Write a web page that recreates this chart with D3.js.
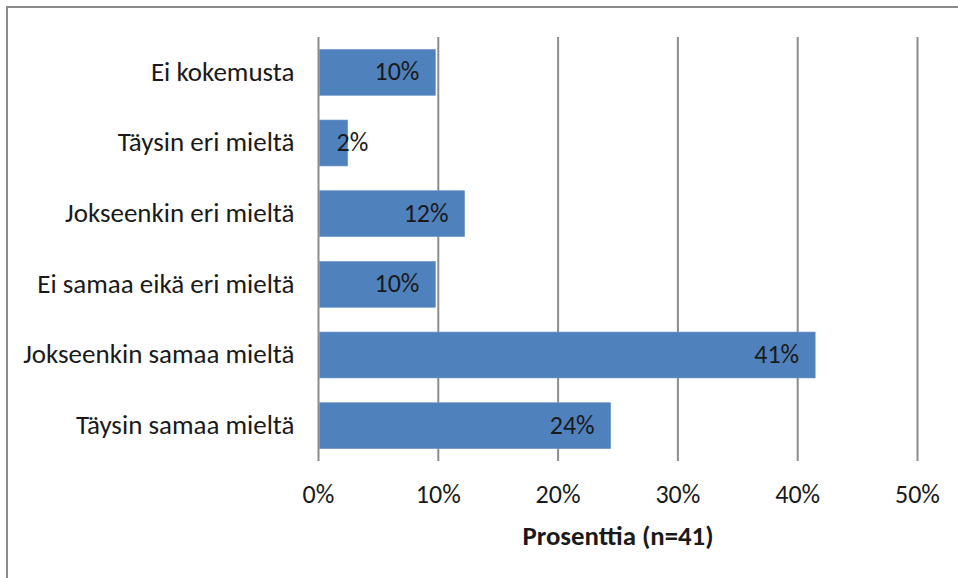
<!DOCTYPE html>
<html>
<head>
<meta charset="utf-8">
<script src="https://cdn.jsdelivr.net/npm/d3@7"></script>
<style>
  html, body { margin: 0; padding: 0; background: #fff; }
  svg { display: block; }
  text { font-family: Carlito, Calibri, Lato, "Open Sans", sans-serif; fill: #1a1a1a; }
</style>
</head>
<body>
<svg id="chart" width="958" height="578"></svg>
<script>
// Survey answers, shown top to bottom
const categories = [
  "Ei kokemusta",
  "Täysin eri mieltä",
  "Jokseenkin eri mieltä",
  "Ei samaa eikä eri mieltä",
  "Jokseenkin samaa mieltä",
  "Täysin samaa mieltä"
];
// Share of respondents (%), n = 41
const percentages = [9.76, 2.44, 12.20, 9.76, 41.46, 24.39];
const xTicks = [0, 10, 20, 30, 40, 50];
const axisTitle = "Prosenttia (n=41)";

const svg = d3.select("#chart");
const W = 958, H = 578;
const plot = { left: 318.5, right: 917.5, top: 37, bottom: 461 };

// Outer frame (right and bottom edges fall outside the canvas)
svg.append("rect")
  .attr("x", 7).attr("y", 7)
  .attr("width", W + 10).attr("height", H + 10)
  .attr("fill", "none")
  .attr("stroke", "#8a8a8a")
  .attr("stroke-width", 2);

const x = d3.scaleLinear().domain([0, 50]).range([plot.left, plot.right]);
const y = d3.scaleBand().domain(categories)
  .range([plot.top, plot.bottom])
  .paddingInner(0.35).paddingOuter(0.175);

// Vertical gridlines, including the category axis at 0%
svg.append("g")
  .selectAll("line")
  .data(xTicks)
  .join("line")
  .attr("x1", d => x(d)).attr("x2", d => x(d))
  .attr("y1", plot.top).attr("y2", plot.bottom)
  .attr("stroke", "#8c8c8c")
  .attr("stroke-width", 2);

const rows = categories.map((c, i) => ({ cat: c, value: percentages[i] }));

// Bars
svg.append("g")
  .selectAll("rect")
  .data(rows)
  .join("rect")
  .attr("x", x(0) + 1)
  .attr("y", d => y(d.cat))
  .attr("width", d => x(d.value) - x(0) - 1)
  .attr("height", y.bandwidth())
  .attr("fill", "#4f81bd")
  .attr("stroke", "#6f97c8")
  .attr("stroke-width", 0.6);

// Value labels at the inner end of each bar
const fmt = v => Math.round(v) + "%";
const labels = svg.append("g")
  .selectAll("text")
  .data(rows)
  .join("text")
  .attr("y", d => y(d.cat) + y.bandwidth() / 2)
  .attr("dy", "0.31em")
  .attr("font-size", 26)
  .text(d => fmt(d.value));
labels.each(function(d) {
  const w = this.getComputedTextLength();
  let right = x(d.value) - 16;
  if (right - w < x(0) + 18) right = x(0) + 18 + w;
  d3.select(this).attr("x", right).attr("text-anchor", "end");
});

// Category labels
svg.append("g")
  .selectAll("text")
  .data(categories)
  .join("text")
  .attr("x", plot.left - 24)
  .attr("y", d => y(d) + y.bandwidth() / 2)
  .attr("dy", "0.31em")
  .attr("text-anchor", "end")
  .attr("font-size", 27)
  .text(d => d);

// X tick labels
svg.append("g")
  .selectAll("text")
  .data(xTicks)
  .join("text")
  .attr("x", d => x(d))
  .attr("y", 503)
  .attr("text-anchor", "middle")
  .attr("font-size", 26)
  .text(d => d + "%");

// Axis title
svg.append("text")
  .attr("x", (plot.left + plot.right) / 2)
  .attr("y", 545)
  .attr("text-anchor", "middle")
  .attr("font-size", 26.8)
  .attr("font-weight", "bold")
  .text(axisTitle);
</script>
</body>
</html>
